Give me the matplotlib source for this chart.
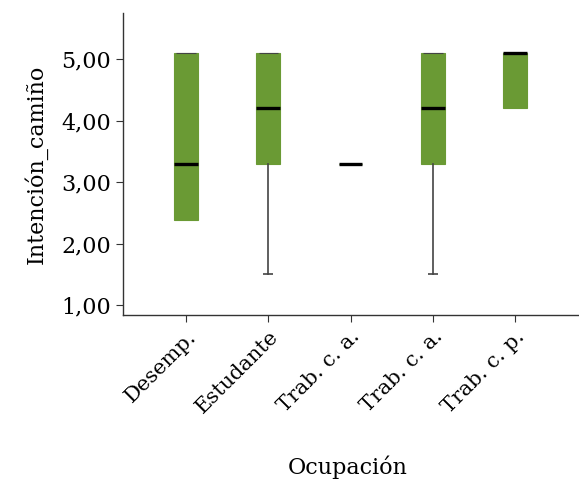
import matplotlib.pyplot as plt

# -----------------------------
# Data
# -----------------------------
categories = ['Desemp.', 'Estudante', 'Trab. c. a.', 'Trab. c. a.', 'Trab. c. p.']
q1_vals = [2.38, 3.30, 3.30, 3.30, 4.20]
med_vals = [3.30, 4.20, 3.30, 4.20, 5.10]
q3_vals = [5.10, 5.10, 3.30, 5.10, 5.10]
low_vals = [2.38, 1.50, 3.30, 1.50, 4.20]
high_vals = [5.10, 5.10, 3.30, 5.10, 5.10]

stats = []
for i in range(len(categories)):
    stats.append(dict(label=categories[i], q1=q1_vals[i], med=med_vals[i],
                      q3=q3_vals[i], whislo=low_vals[i], whishi=high_vals[i],
                      fliers=[]))

plt.rcParams['font.family'] = ['DejaVu Serif']

fig = plt.figure(figsize=(5.79, 4.84), dpi=100)
ax = fig.add_axes([0.2124, 0.349, 0.7876, 0.624])

green = '#6a9a34'
edge = '#444444'
pos = list(range(len(categories)))
ax.bxp(stats, positions=pos, widths=0.29, patch_artist=True,
       showfliers=False, showcaps=False,
       boxprops=dict(facecolor=green, edgecolor=green, linewidth=0.8),
       medianprops=dict(color='black', linewidth=2.4, solid_capstyle='butt'),
       whiskerprops=dict(color=edge, linewidth=1.2))

# caps only where a whisker sticks out of the box; thin line on box tops
for i in pos:
    if low_vals[i] < q1_vals[i]:
        ax.hlines(low_vals[i], i - 0.06, i + 0.06, color=edge, linewidth=1.2)
    if q3_vals[i] > q1_vals[i]:
        ax.hlines(high_vals[i], i - 0.12, i + 0.12, color=edge, linewidth=0.8)

ax.set_xlim(-0.77, 4.78)
ax.set_ylim(0.84, 5.75)
ax.set_yticks([1, 2, 3, 4, 5])
ax.set_yticklabels(['1,00', '2,00', '3,00', '4,00', '5,00'], fontsize=16)
ax.set_xticks(pos)
ax.set_xticklabels(categories, rotation=45, ha='right', rotation_mode='anchor',
                   fontsize=15)

for s in ['top', 'right']:
    ax.spines[s].set_visible(False)
for s in ['left', 'bottom']:
    ax.spines[s].set_color('#333333')
    ax.spines[s].set_linewidth(1.0)
ax.tick_params(colors='#333333', labelcolor='black', length=5)

ax.set_ylabel('Intención_camiño', fontsize=16, labelpad=10)
fig.text(0.6, 0.02, 'Ocupación', fontsize=16, ha='center')

fig.savefig('out.png', dpi=100)
